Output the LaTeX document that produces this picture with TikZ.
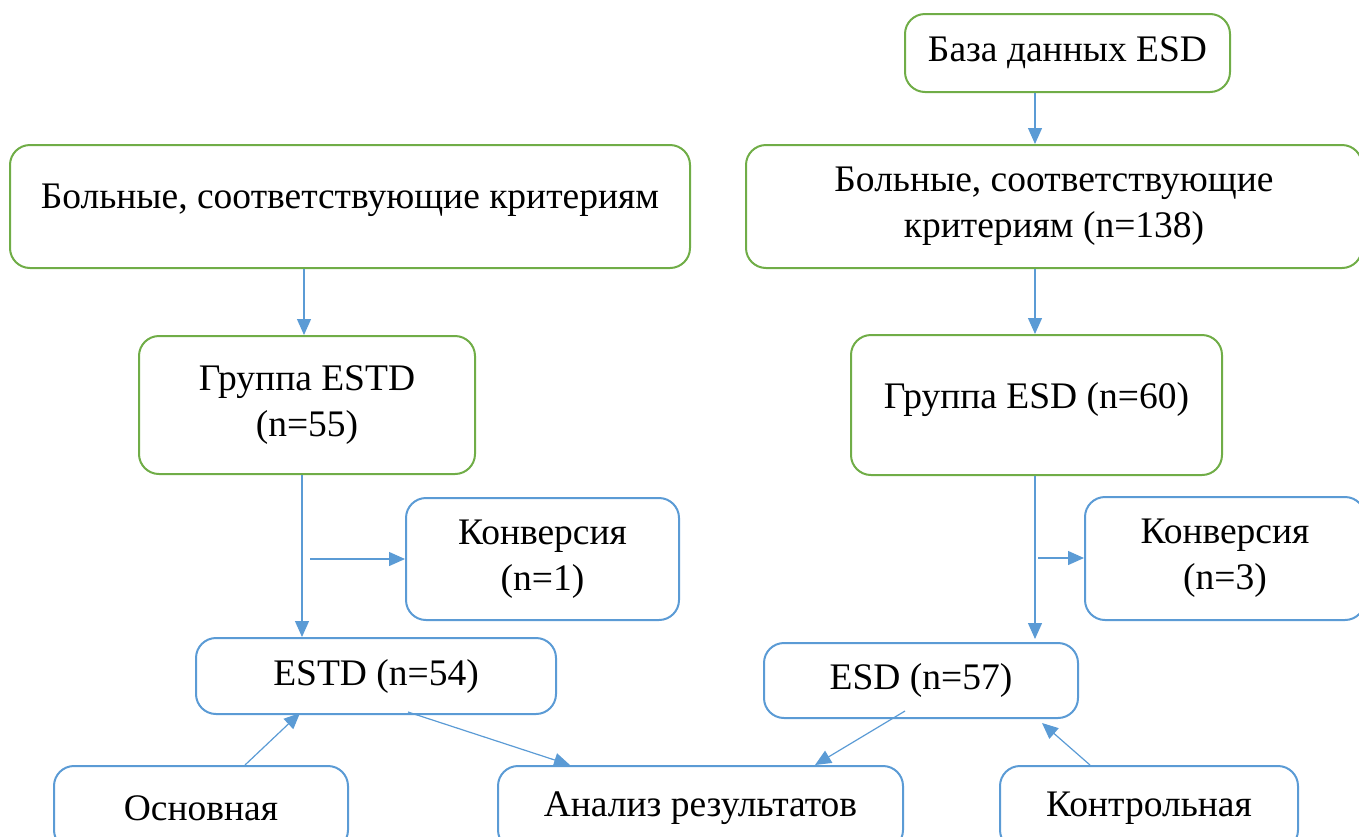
\documentclass[tikz,border=0pt]{standalone}
\usepackage{fontspec}
\setmainfont{Liberation Serif}
\usetikzlibrary{arrows.meta}
\definecolor{gr}{HTML}{70AD47}
\definecolor{bl}{HTML}{5B9BD5}
\tikzset{
  box/.style={draw, rounded corners=20pt, line width=2pt, inner sep=0pt, align=center,
    font=\fontsize{37.5}{46}\selectfont},
  gbox/.style={box, draw=gr},
  bbox/.style={box, draw=bl},
  arr/.style={draw=bl, line width=1.2pt, -{Triangle[length=16pt,width=14pt]}}
}
\begin{document}
\begin{tikzpicture}[x=1pt,y=-1pt]
\useasboundingbox (0,0) rectangle (1359,836);
\clip (0,0) rectangle (1359,836);
\node[gbox, minimum width=325pt, minimum height=78pt] (baza) at (1067.5,53) {База данных ESD};
\node[gbox, minimum width=680pt, minimum height=123pt, text depth=20pt] (bolL) at (350,206.5) {Больные, соответствующие критериям};
\node[gbox, minimum width=616pt, minimum height=123pt] (bolR) at (1054,206.5) {Больные, соответствующие\\критериям (n=138)};
\node[gbox, minimum width=336pt, minimum height=138pt] (grL) at (307,405) {Группа ESTD\\(n=55)};
\node[gbox, minimum width=371pt, minimum height=140pt, text depth=20pt] (grR) at (1036.5,405) {Группа ESD (n=60)};
\node[bbox, minimum width=273pt, minimum height=122pt] (kL) at (542.5,559) {Конверсия\\(n=1)};
\node[bbox, minimum width=280pt, minimum height=123pt] (kR) at (1225,558.5) {Конверсия\\(n=3)};
\node[bbox, minimum width=360pt, minimum height=76pt] (estd) at (376,676) {ESTD (n=54)};
\node[bbox, minimum width=314pt, minimum height=75pt] (esd) at (921,680.5) {ESD (n=57)};
\node[bbox, minimum width=294pt, minimum height=84pt] (osn) at (201,808) {Основная};
\node[bbox, minimum width=405pt, minimum height=84pt] (an) at (700.5,808) {Анализ результатов};
\node[bbox, minimum width=298pt, minimum height=84pt] (kon) at (1149,808) {Контрольная};
\coordinate (xR) at (1035,0);
\coordinate (xL) at (304,0);
\coordinate (xL2) at (302,0);
\coordinate (s1) at (310,559);
\coordinate (s2) at (1038,558);
\coordinate (o1) at (245,0);
\coordinate (o2) at (300,0);
\coordinate (e1) at (408,0);
\coordinate (a1) at (570,0);
\coordinate (e2) at (905,0);
\coordinate (a2) at (815,0);
\coordinate (k1) at (1090,0);
\coordinate (k2) at (1042,0);
\draw[arr] (baza.south -| xR) -- (bolR.north -| xR);
\draw[arr] (bolL.south -| xL) -- (grL.north -| xL);
\draw[arr] (bolR.south -| xR) -- (grR.north -| xR);
\draw[arr] (grL.south -| xL2) -- (estd.north -| xL2);
\draw[arr] (grR.south -| xR) -- ([yshift=3pt]esd.north -| xR);
\draw[arr] (s1) -- (kL.west |- s1);
\draw[arr] (s2) -- (kR.west |- s2);
\draw[arr] (osn.north -| o1) -- ([yshift=2pt]estd.south -| o2);
\draw[arr] ([yshift=3pt]estd.south -| e1) -- (an.north -| a1);
\draw[arr] ([yshift=8pt]esd.south -| e2) -- (an.north -| a2);
\draw[arr] (kon.north -| k1) -- ([yshift=-4pt]esd.south -| k2);
\end{tikzpicture}
\end{document}
